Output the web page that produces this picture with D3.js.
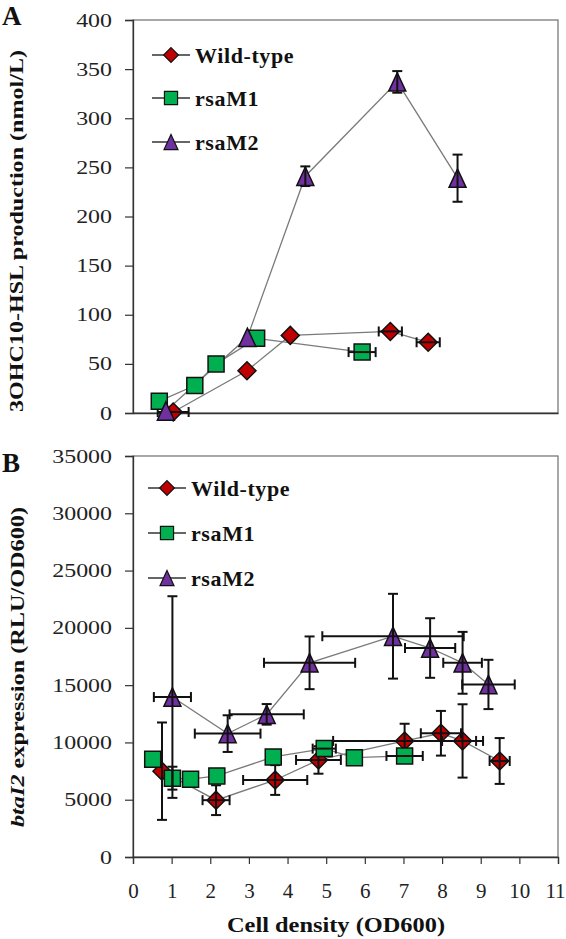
<!DOCTYPE html>
<html><head><meta charset="utf-8">
<script src="https://cdn.jsdelivr.net/npm/d3@7/dist/d3.min.js"></script>
<style>body{margin:0;background:#fff}svg{display:block}</style>
</head><body>
<script>
// ---------- data ----------
const seriesNames = ["Wild-type", "rsaM1", "rsaM2"];
const xTicks = [0,1,2,3,4,5,6,7,8,9,10,11];
const yTicksA = [0,50,100,150,200,250,300,350,400];
const yTicksB = [0,5000,10000,15000,20000,25000,30000,35000];

// Panel A
const aWildX = [1.04, 2.95, 4.07, 6.66, 7.64];
const aWildY = [1, 43, 79, 83, 72];
const aWildXErr = [0.4, 0, 0, 0.3, 0.3];
const aWildYErr = [0, 0, 0, 0, 0];
const aM1X = [0.68, 1.6, 2.15, 3.2, 5.93];
const aM1Y = [12, 28, 50, 76, 62];
const aM1XErr = [0, 0, 0, 0, 0.35];
const aM1YErr = [0, 0, 0, 0, 0];
const aM2X = [0.85, 2.96, 4.46, 6.84, 8.4];
const aM2Y = [2, 77, 241, 337, 239];
const aM2XErr = [0, 0, 0, 0, 0];
const aM2YErr = [0, 0, 10, 11, 24];

// Panel B
const bWildX = [0.75, 2.15, 3.68, 4.8, 7.03, 7.97, 8.53, 9.49];
const bWildY = [7490, 4960, 6720, 8470, 10130, 10800, 10130, 8380];
const bWildXErr = [0, 0.35, 0.83, 0.58, 1.85, 0.52, 0.53, 0.26];
const bWildYErr = [4250, 1300, 1300, 1200, 1500, 1950, 3200, 2000];
const bM1X = [0.51, 1.02, 1.49, 2.17, 3.63, 4.95, 5.73, 7.03];
const bM1Y = [8530, 6880, 6790, 7080, 8730, 9460, 8670, 8820];
const bM1XErr = [0, 0, 0, 0, 0, 0.3, 0, 0.47];
const bM1YErr = [0, 1000, 0, 0, 0, 0, 0, 0];
const bM2X = [1.02, 2.45, 3.46, 4.57, 6.73, 7.69, 8.53, 9.2];
const bM2Y = [13960, 10770, 12450, 16950, 19270, 18240, 16950, 15060];
const bM2XErr = [0.48, 0.85, 0.96, 1.18, 1.83, 0.65, 0.5, 0.68];
const bM2YErr = [8800, 1600, 900, 2300, 3700, 2600, 2700, 2150];

// ---------- styles ----------
const fills = ["#c00000", "#00b050", "#7030a0"];
const diamond = { draw(c, s) { const r = s / 2; c.moveTo(0, -r); c.lineTo(r, 0); c.lineTo(0, r); c.lineTo(-r, 0); c.closePath(); } };
const square = { draw(c, s) { const r = s / 2; c.rect(-r, -r, s, s); } };
const triangle = { draw(c, s) { const w = s / 2, h = s * 1.08 / 2; c.moveTo(0, -h); c.lineTo(w, h); c.lineTo(-w, h); c.closePath(); } };
const shapes = [diamond, square, triangle];
const sizes = [18, 16, 17];
const serif = "'Liberation Serif','Times New Roman',serif";

const W = 566, H = 939;
const svg = d3.select("body").append("svg").attr("width", W).attr("height", H)
  .style("font-family", serif);

function zipSeries(xs, ys, xe, ye) {
  return xs.map((x, i) => ({x, y: ys[i], xe: xe[i], ye: ye[i]}));
}

function panel(cfg) {
  const x = d3.scaleLinear().domain([0, 11]).range([133, 558]);
  const y = d3.scaleLinear().domain(cfg.yDomain).range([cfg.bottom, cfg.top]);
  const g = svg.append("g");

  g.append("rect").attr("x", 133).attr("y", cfg.top).attr("width", 558 - 133)
    .attr("height", cfg.bottom - cfg.top).attr("fill", "none").attr("stroke", "#6e6e6e").attr("stroke-width", 1.2);

  const ya = g.append("g").attr("transform", "translate(133,0)")
    .call(d3.axisLeft(y).tickValues(cfg.yTicks).tickSize(8).tickPadding(0).tickFormat(d3.format("d")));
  ya.select(".domain").attr("stroke", "#333").attr("stroke-width", 1.3);
  ya.selectAll(".tick line").attr("stroke", "#333").attr("stroke-width", 1.2);
  ya.selectAll(".tick text").attr("x", 0).attr("dy", "0.34em")
    .attr("transform", "translate(-21,0) scale(1.33,1)")
    .style("font-size", "18px").style("font-family", serif).attr("fill", "#222");

  const xa = g.append("g").attr("transform", `translate(0,${cfg.bottom})`)
    .call(d3.axisBottom(x).tickValues(xTicks).tickSize(cfg.showX ? 7 : 0).tickPadding(0));
  xa.select(".domain").attr("stroke", "#333").attr("stroke-width", 1.3);
  xa.selectAll(".tick line").attr("stroke", "#333").attr("stroke-width", 1.2);
  if (cfg.showX) {
    xa.selectAll(".tick text").attr("y", 41).attr("dy", "0")
      .attr("dx", d => d === 11 ? -3 : 0)
      .style("font-size", "21px").style("font-family", serif).attr("fill", "#222");
  } else {
    xa.selectAll(".tick text").remove();
  }

  const line = d3.line().x(d => x(d.x)).y(d => y(d.y));

  cfg.series.forEach(s => {
    g.append("path").datum(s).attr("d", line).attr("fill", "none")
      .attr("stroke", "#7a7a7a").attr("stroke-width", 1.3);
  });
  cfg.series.forEach((s, si) => {
    const sg = g.append("g");
    sg.selectAll("path.m").data(s).join("path").attr("class", "m")
      .attr("transform", d => `translate(${x(d.x)},${y(d.y)})`)
      .attr("d", d3.symbol().type(shapes[si]).size(sizes[si]))
      .attr("fill", fills[si]).attr("stroke", "#111").attr("stroke-width", 1.5);
    const eg = sg.append("g").attr("stroke", "#111").attr("stroke-width", 2).attr("fill", "none");
    s.forEach(d => {
      if (d.ye > 0) {
        const cx = x(d.x), y1 = y(d.y - d.ye), y2 = y(d.y + d.ye);
        eg.append("line").attr("x1", cx).attr("x2", cx).attr("y1", y1).attr("y2", y2);
        eg.append("line").attr("x1", cx - 5).attr("x2", cx + 5).attr("y1", y1).attr("y2", y1);
        eg.append("line").attr("x1", cx - 5).attr("x2", cx + 5).attr("y1", y2).attr("y2", y2);
      }
      if (d.xe > 0) {
        const cy = y(d.y), x1 = x(d.x - d.xe), x2 = x(d.x + d.xe);
        eg.append("line").attr("x1", x1).attr("x2", x2).attr("y1", cy).attr("y2", cy);
        eg.append("line").attr("x1", x1).attr("x2", x1).attr("y1", cy - 5).attr("y2", cy + 5);
        eg.append("line").attr("x1", x2).attr("x2", x2).attr("y1", cy - 5).attr("y2", cy + 5);
      }
    });
  });

  seriesNames.forEach((n, i) => {
    const ly = cfg.legendY[i];
    const lg = g.append("g");
    lg.append("line").attr("x1", cfg.legendX).attr("x2", cfg.legendX + 38).attr("y1", ly).attr("y2", ly)
      .attr("stroke", "#333").attr("stroke-width", 1.3);
    lg.append("path").attr("transform", `translate(${cfg.legendX + 19},${ly})`)
      .attr("d", d3.symbol().type(shapes[i]).size(sizes[i] * 0.82))
      .attr("fill", fills[i]).attr("stroke", "#111").attr("stroke-width", 1.2);
    lg.append("text").attr("x", cfg.legendX + 43).attr("y", ly + 8)
      .style("font-size", "22px").style("font-weight", "bold").style("letter-spacing", "0.6px")
      .attr("fill", "#111").text(n);
  });

  svg.append("text").attr("x", 2).attr("y", cfg.letterY).text(cfg.letter)
    .style("font-size", "27px").style("font-weight", "bold").attr("fill", "#111");

  return {x, y};
}

panel({
  letter: "A", letterY: 25, top: 20, bottom: 413, yDomain: [0, 400], yTicks: yTicksA, showX: false,
  legendX: 152, legendY: [55, 98, 142],
  series: [zipSeries(aWildX, aWildY, aWildXErr, aWildYErr),
           zipSeries(aM1X, aM1Y, aM1XErr, aM1YErr),
           zipSeries(aM2X, aM2Y, aM2XErr, aM2YErr)]
});
panel({
  letter: "B", letterY: 472, top: 456, bottom: 857, yDomain: [0, 35000], yTicks: yTicksB, showX: true,
  legendX: 148, legendY: [488, 533, 578],
  series: [zipSeries(bWildX, bWildY, bWildXErr, bWildYErr),
           zipSeries(bM1X, bM1Y, bM1XErr, bM1YErr),
           zipSeries(bM2X, bM2Y, bM2XErr, bM2YErr)]
});

svg.append("text").attr("transform", "translate(23,231) rotate(-90)").attr("text-anchor", "middle")
  .attr("textLength", 362).attr("lengthAdjust", "spacingAndGlyphs")
  .style("font-size", "19px").style("font-weight", "bold").attr("fill", "#111")
  .text("3OHC10-HSL production (nmol/L)");

const tB = svg.append("text").attr("transform", "translate(24,667) rotate(-90)").attr("text-anchor", "middle")
  .attr("textLength", 320).attr("lengthAdjust", "spacingAndGlyphs")
  .style("font-size", "19px").style("font-weight", "bold").attr("fill", "#111");
tB.append("tspan").style("font-style", "italic").text("btaI2");
tB.append("tspan").text(" expression (RLU/OD600)");

svg.append("text").attr("x", 336).attr("y", 932).attr("text-anchor", "middle")
  .attr("textLength", 218).attr("lengthAdjust", "spacingAndGlyphs")
  .style("font-size", "22px").style("font-weight", "bold").attr("fill", "#111")
  .text("Cell density (OD600)");
</script>
</body></html>
